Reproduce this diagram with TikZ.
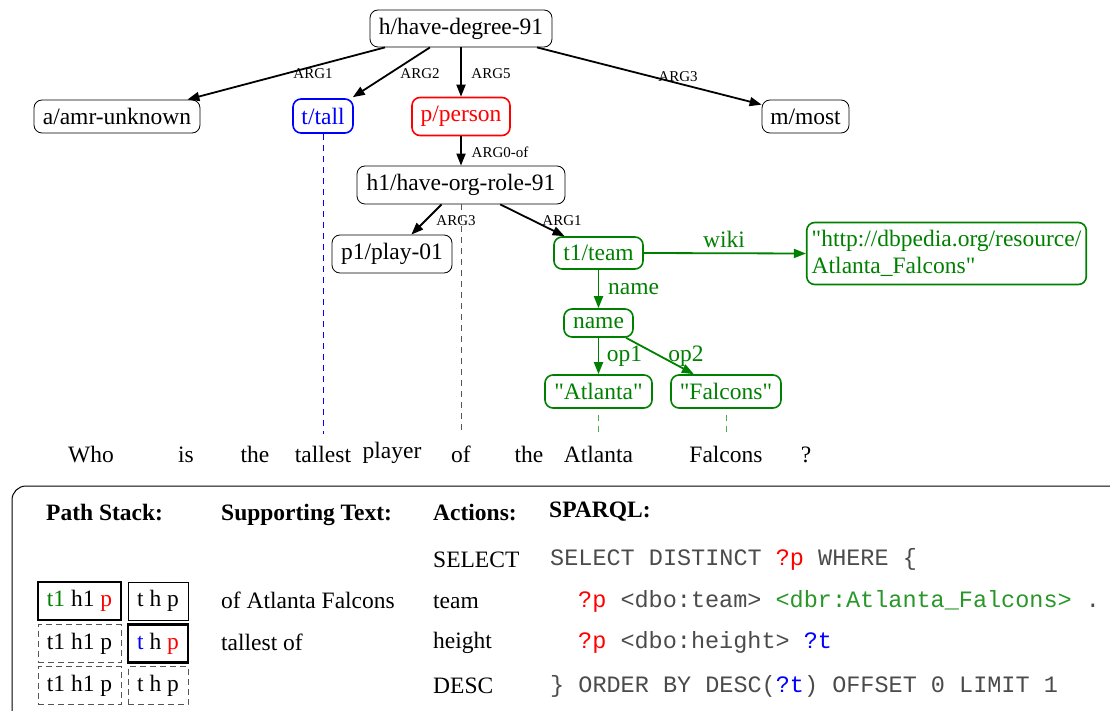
\documentclass[tikz,border=0pt]{standalone}
\usepackage{fontspec}
\setmainfont{Liberation Serif}[Ligatures=TeXOff]
\setmonofont{Liberation Mono}
\usetikzlibrary{arrows.meta}
\definecolor{amrgreen}{RGB}{0,128,0}
\definecolor{codegreen}{RGB}{40,150,40}
\definecolor{lightgreen}{RGB}{80,170,80}
\definecolor{dgray}{RGB}{85,85,85}
\definecolor{codegray}{RGB}{75,75,75}
\begin{document}
\begin{tikzpicture}[x=1pt,y=-1pt,
  amr/.style={draw, rounded corners=8pt, font=\fontsize{23.5}{27}\selectfont, inner sep=2pt, line width=0.8pt},
  amrblue/.style={amr, draw=blue, text=blue, line width=1.6pt},
  amrred/.style={amr, draw=red, text=red, line width=1.6pt},
  amrgr/.style={amr, draw=amrgreen, text=amrgreen, line width=1.6pt},
  edge/.style={line width=1.8pt, -{Triangle[length=12pt,width=9pt]}},
  gedge/.style={edge, draw=amrgreen, -{Triangle[length=12pt,width=9pt,fill=amrgreen]}},
  elab/.style={font=\fontsize{15}{17}\selectfont, inner sep=0pt},
  glab/.style={font=\fontsize{23.5}{27}\selectfont, text=amrgreen, inner sep=0pt},
  word/.style={font=\fontsize{23.5}{27}\selectfont, anchor=base, inner sep=1pt},
  alignline/.style={line width=1pt, dash pattern=on 6pt off 5pt, shorten >=10pt},
  txt/.style={font=\fontsize{23.5}{27}\selectfont, anchor=base west, inner sep=0pt},
  hdr/.style={font=\fontsize{23.5}{27}\selectfont\bfseries, anchor=base west, inner sep=0pt},
  code/.style={font=\fontsize{23.5}{27}\selectfont\ttfamily, text=codegray, anchor=base west, inner sep=0pt},
  stk/.style={font=\fontsize{23.5}{27}\selectfont, inner sep=0pt, minimum height=38pt},
  stkthick/.style={stk, draw, line width=2.8pt},
  stkthin/.style={stk, draw, line width=0.8pt},
  stkdash/.style={stk, draw=dgray, line width=0.9pt, dash pattern=on 6pt off 4pt}
]
\useasboundingbox (0,0) rectangle (1110,711);
\clip (0,0) rectangle (1110,711);

% AMR graph nodes
\node[amr, minimum width=182pt, minimum height=37pt] (h) at (461,28.5) {h/have-degree-91};
\node[amr, minimum width=166pt, minimum height=33pt] (a) at (117,116.5) {a/amr-unknown};
\node[amrblue, minimum width=60pt, minimum height=34pt] (t) at (323,116) {t/tall};
\node[amrred, minimum width=98pt, minimum height=38pt] (p) at (461,116.5) {p/person};
\node[amr, minimum width=87pt, minimum height=33pt] (m) at (805.5,116.5) {m/most};
\node[amr, minimum width=208pt, minimum height=38pt] (h1) at (461,185) {h1/have-org-role-91};
\node[amr, minimum width=120pt, minimum height=38pt] (p1) at (392,254) {p1/play-01};
\node[amrgr, minimum width=89pt, minimum height=32pt] (t1) at (598.5,253) {t1/team};
\node[amrgr, align=left, inner xsep=5pt, minimum height=62pt] (wk) at (946.5,253.5) {"http://dbpedia.org/resource/\\Atlanta\_Falcons"};
\node[amrgr, minimum width=69pt, minimum height=28pt] (nm) at (598.5,323) {name};
\node[amrgr, minimum width=107pt, minimum height=33pt] (at) at (598.5,391.5) {"Atlanta"};
\node[amrgr, minimum width=110pt, minimum height=33pt] (fa) at (726,391.5) {"Falcons"};

% AMR edges
\draw[edge] ([xshift=-76pt]h.south) -- ([xshift=-13pt]a.north east);
\draw[edge] ([xshift=-31pt]h.south) -- ([xshift=-1pt,yshift=1pt]t.north east);
\draw[edge] (h.south) -- (p.north);
\draw[edge] ([xshift=76pt]h.south) -- ([yshift=-5pt]m.north west);
\draw[edge] (p.south) -- (h1.north);
\draw[edge] (h1) -- (p1);
\draw[edge] (h1) -- (t1);
\draw[gedge] (t1.east) -- (wk.west);
\draw[gedge] (t1.south) -- (nm.north);
\draw[gedge] (nm.south) -- (at.north);
\draw[gedge] (nm) -- (fa);

% edge labels
\node[elab] (l1) at (313,74) {ARG1};
\node[elab] (l2) at (420,74) {ARG2};
\node[elab] (l5) at (491,74) {ARG5};
\node[elab] (l3) at (678,77) {ARG3};
\node[elab] (l0) at (500,152) {ARG0-of};
\node[elab] (l6) at (456,221) {ARG3};
\node[elab] (l7) at (562,221) {ARG1};
\node[glab] (lw) at (724,239) {wiki};
\node[glab, anchor=west] (ln) at (608,289) {name};
\node[glab] (lo1) at (624.5,356) {op1};
\node[glab] (lo2) at (686,356) {op2};

% sentence
\node[word] (w1) at (91,462) {Who};
\node[word] (w2) at (186,462) {is};
\node[word] (w3) at (255,462) {the};
\node[word] (w4) at (323,462) {tallest};
\node[word] (w5) at (392,458) {player};
\node[word] (w6) at (461,462) {of};
\node[word] (w7) at (529,462) {the};
\node[word] (w8) at (598.5,462) {Atlanta};
\node[word] (w9) at (726,462) {Falcons};
\node[word] (w10) at (806,462) {?};

% alignment lines
\draw[alignline, blue] (t.south) -- (w4.north);
\draw[alignline, dgray] (h1.south) -- (w6.north);
\draw[alignline, lightgreen, line width=0.8pt, shorten <=6pt] (at.south) -- (w8.north);
\draw[alignline, lightgreen, line width=0.8pt, shorten <=6pt] (fa.south) -- (w9.north);

% bottom panel
\draw[line width=1pt, rounded corners=14pt] (12,486) rectangle (1140,740);

\node[hdr] (hd1) at (46,520) {Path Stack:};
\node[hdr] (hd2) at (221,520) {Supporting Text:};
\node[hdr] (hd3) at (433,520) {Actions:};
\node[hdr] (hd4) at (549,517) {SPARQL:};

% path stack
\node[stkthick, minimum width=83pt] (s11) at (79.5,601) {\textcolor{amrgreen}{t1} h1 \textcolor{red}{p}};
\node[stkthin, minimum width=60pt] (s12) at (158,601) {t h p};
\node[stkdash, minimum width=83pt] (s21) at (79.5,643.5) {t1 h1 p};
\node[stkthick, minimum width=60pt] (s22) at (158,643.5) {\textcolor{blue}{t} h \textcolor{red}{p}};
\node[stkdash, minimum width=83pt] (s31) at (79.5,685.5) {t1 h1 p};
\node[stkdash, minimum width=60pt] (s32) at (158,685.5) {t h p};

% supporting text
\node[txt] (st1) at (221,608) {of Atlanta Falcons};
\node[txt] (st2) at (221,650) {tallest of};

% actions
\node[txt] (ac1) at (433,567) {SELECT};
\node[txt] (ac2) at (433,608) {team};
\node[txt] (ac3) at (433,648) {height};
\node[txt] (ac4) at (433,693) {DESC};

% SPARQL
\node[code] (c1) at (550,565) {SELECT DISTINCT \textcolor{red}{?p} WHERE \{};
\node[code] (c2) at (578,607) {\textcolor{red}{?p} <dbo:team> \textcolor{codegreen}{<dbr:Atlanta\_Falcons>} .};
\node[code] (c3) at (578,648) {\textcolor{red}{?p} <dbo:height> \textcolor{blue}{?t}};
\node[code] (c4) at (550,692) {\} ORDER BY DESC(\textcolor{blue}{?t}) OFFSET 0 LIMIT 1};
\end{tikzpicture}
\end{document}
